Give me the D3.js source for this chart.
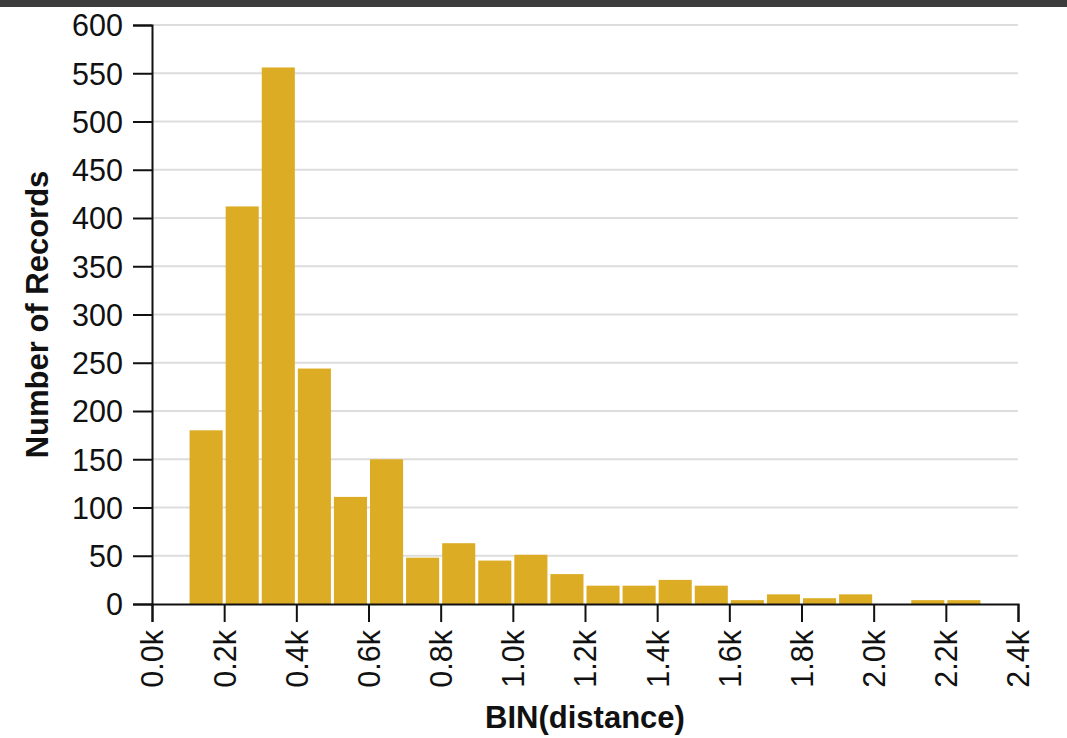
<!DOCTYPE html>
<html>
<head>
<meta charset="utf-8">
<script src="https://cdn.jsdelivr.net/npm/d3@7"></script>
<style>
  html, body { margin: 0; padding: 0; background: #fff; }
  svg { display: block; }
  text { font-family: "Liberation Sans", Arial, Helvetica, sans-serif; }
</style>
</head>
<body>
<svg id="chart" width="1067" height="738"></svg>
<script>
// ---- data ----
const binStarts = [100, 200, 300, 400, 500, 600, 700, 800, 900, 1000, 1100, 1200, 1300, 1400, 1500, 1600, 1700, 1800, 1900, 2000, 2100, 2200];
const binWidth = 100;
const counts = [180, 412, 556, 244, 111, 150, 48, 63, 45, 51, 31, 19, 19, 25, 19, 4, 10, 6, 10, 0, 4, 4];
const xTicks = [0, 200, 400, 600, 800, 1000, 1200, 1400, 1600, 1800, 2000, 2200, 2400];
const yTicks = [0, 50, 100, 150, 200, 250, 300, 350, 400, 450, 500, 550, 600];
const xTitle = "BIN(distance)";
const yTitle = "Number of Records";

// ---- layout ----
const W = 1067, H = 738;
const mLeft = 152, mRight = 1018, mTop = 25, mBottom = 604;
const svg = d3.select("#chart");

svg.append("rect").attr("x", 0).attr("y", 0).attr("width", W).attr("height", 7).attr("fill", "#3c3c3c");

const x = d3.scaleLinear().domain([0, 2400]).range([mLeft, mRight]);
const y = d3.scaleLinear().domain([0, 600]).range([mBottom, mTop]);

// gridlines
svg.append("g").selectAll("line").data(yTicks.filter(d => d > 0)).join("line")
  .attr("x1", mLeft).attr("x2", mRight)
  .attr("y1", d => y(d)).attr("y2", d => y(d))
  .attr("stroke", "#dddddd").attr("stroke-width", 2);

// bars
const data = binStarts.map((s, i) => ({ s, e: s + binWidth, v: counts[i] }));
svg.append("g").selectAll("rect").data(data.filter(d => d.v > 0)).join("rect")
  .attr("x", d => x(d.s) + 1.5)
  .attr("width", d => x(d.e) - x(d.s) - 3)
  .attr("y", d => y(d.v))
  .attr("height", d => y(0) - y(d.v))
  .attr("fill", "#dcad24");

// axes
const fs = 30.5;
const yAxis = svg.append("g").attr("transform", `translate(${mLeft},0)`)
  .call(d3.axisLeft(y).tickValues(yTicks).tickSize(19).tickPadding(10));
const xAxis = svg.append("g").attr("transform", `translate(0,${mBottom})`)
  .call(d3.axisBottom(x).tickValues(xTicks).tickSize(18)
    .tickFormat(d => d3.format(".1f")(d / 1000) + "k"));

[yAxis, xAxis].forEach(g => {
  g.selectAll("path, line").attr("stroke", "#111").attr("stroke-width", 2);
  g.selectAll("text").attr("fill", "#111").style("font-size", fs + "px")
    .style("font-family", "'Liberation Sans', Arial, sans-serif");
});
yAxis.selectAll("text").attr("dy", "0.36em");

xAxis.selectAll("text")
  .attr("transform", "rotate(-90)")
  .attr("text-anchor", "end")
  .attr("x", -26)
  .attr("y", 0)
  .attr("dy", "0.36em");

// titles
svg.append("text")
  .attr("x", 585).attr("y", 728)
  .attr("text-anchor", "middle")
  .style("font-size", "31px").style("font-weight", "bold").attr("fill", "#111")
  .text(xTitle);

svg.append("text")
  .attr("transform", `translate(48,${(mTop + mBottom) / 2}) rotate(-90)`)
  .attr("text-anchor", "middle")
  .style("font-size", "31px").style("font-weight", "bold").attr("fill", "#111")
  .text(yTitle);
</script>
</body>
</html>
